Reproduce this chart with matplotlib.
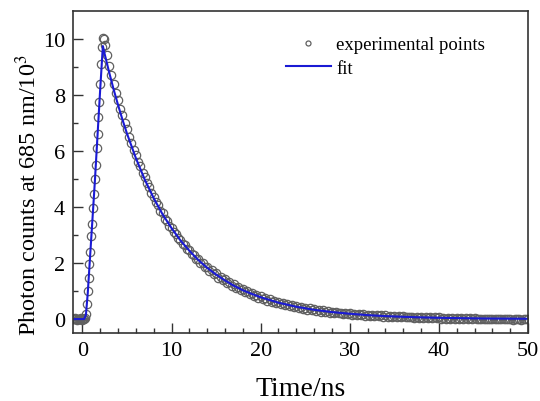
import numpy as np
import matplotlib
matplotlib.use("Agg")
import matplotlib.pyplot as plt

plt.rcParams['font.family'] = ['Liberation Serif', 'DejaVu Serif']
plt.rcParams['mathtext.fontset'] = 'stix'

# experimental points, part 1: t = -1.0 ... 2.4 ns, step 0.1 ns
exp_t0_a, exp_dt_a = -1.0, 0.1
exp_y_a = [0.02, -0.01, 0.03, 0.00, -0.02, 0.01, 0.02, -0.01, 0.00, 0.03,
           -0.02, 0.01, 0.02, 0.05, 0.18, 0.55, 1.00, 1.45, 1.95, 2.40,
           2.95, 3.40, 3.95, 4.45, 5.00, 5.50, 6.10, 6.60, 7.20, 7.75,
           8.40, 9.10, 9.70, 10.05, 10.00]

# experimental points, part 2: t = 2.5 ... 50 ns, step 0.25 ns
exp_t0_b, exp_dt_b = 2.5, 0.25
exp_y_b = [9.80, 9.42, 9.05, 8.70, 8.41, 8.08, 7.82, 7.52, 7.28, 6.99,
           6.78, 6.50, 6.30, 6.05, 5.86, 5.62, 5.45, 5.22, 5.06, 4.85,
           4.70, 4.50, 4.37, 4.18, 4.06, 3.86, 3.78, 3.58, 3.50, 3.33,
           3.27, 3.10, 3.05, 2.88, 2.84, 2.67, 2.65, 2.49, 2.46, 2.31,
           2.30, 2.14, 2.15, 1.99, 2.01, 1.85, 1.87, 1.72, 1.74, 1.60,
           1.63, 1.48, 1.52, 1.38, 1.42, 1.28, 1.33, 1.19, 1.24, 1.10,
           1.16, 1.03, 1.08, 0.95, 1.00, 0.89, 0.93, 0.83, 0.87, 0.77,
           0.81, 0.71, 0.76, 0.66, 0.71, 0.62, 0.66, 0.57, 0.62, 0.53,
           0.58, 0.49, 0.54, 0.46, 0.50, 0.42, 0.47, 0.39, 0.44, 0.36,
           0.41, 0.34, 0.38, 0.31, 0.36, 0.29, 0.33, 0.27, 0.31, 0.25,
           0.29, 0.23, 0.27, 0.21, 0.25, 0.20, 0.23, 0.18, 0.21, 0.17,
           0.20,
           0.16, 0.19, 0.14, 0.18, 0.13, 0.17, 0.12, 0.16, 0.12, 0.15,
           0.11, 0.14, 0.10, 0.14, 0.09, 0.13, 0.09, 0.12, 0.08, 0.11,
           0.08, 0.11, 0.07, 0.10, 0.06, 0.09, 0.06, 0.09, 0.05, 0.08,
           0.05, 0.08, 0.04, 0.07, 0.04, 0.07, 0.03, 0.06, 0.03, 0.06,
           0.02, 0.05, 0.02, 0.05, 0.01, 0.04, 0.02, 0.04, 0.01, 0.04,
           0.00, 0.03, 0.01, 0.03, 0.00, 0.03, 0.00, 0.02, -0.01, 0.02,
           0.00, 0.02, -0.01, 0.02, 0.00, 0.01, -0.01, 0.02, -0.01, 0.01,
           0.00, 0.01, -0.02, 0.01, -0.01, 0.01, -0.02, 0.00, -0.01, 0.01]

# fitted curve
fit_t = [-1.0, 0.2, 0.4, 0.6, 0.8, 1.0, 1.2, 1.4, 1.6, 1.8, 2.0, 2.3, 2.5,
         3, 3.5, 4, 4.5, 5, 6, 7, 8, 9, 10, 11, 12, 13, 14, 15, 16, 17,
         18, 19, 20, 22, 24, 26, 28, 30, 32, 34, 36, 38, 40, 42, 45, 50]
fit_y = [0, 0, 0.15, 0.9, 1.9, 2.9, 3.9, 4.9, 6.0, 7.1, 8.2, 9.75, 9.47,
         8.82, 8.21, 7.65, 7.12, 6.63, 5.75, 4.98, 4.32, 3.74, 3.25, 2.81,
         2.44, 2.11, 1.83, 1.59, 1.38, 1.19, 1.03, 0.90, 0.78, 0.585, 0.44,
         0.33, 0.25, 0.19, 0.14, 0.105, 0.08, 0.06, 0.045, 0.034, 0.02, 0.01]

exp_t = np.concatenate([exp_t0_a + exp_dt_a * np.arange(len(exp_y_a)),
                        exp_t0_b + exp_dt_b * np.arange(len(exp_y_b))])
exp_y = np.array(exp_y_a + exp_y_b)

fig = plt.figure(figsize=(5.4, 4.02), dpi=100)
ax = fig.add_axes([0.136, 0.169, 0.842, 0.801])

ax.plot(exp_t, exp_y, linestyle='none', marker='o', markersize=6,
        markerfacecolor='none', markeredgecolor='#606060', markeredgewidth=0.9,
        label='experimental points')
ax.plot(fit_t, fit_y, color='#1a1ad4', linewidth=1.5, label='fit')

ax.set_xlim(-1, 50)
ax.set_ylim(-0.5, 11)
ax.set_xticks([0, 10, 20, 30, 40, 50])
ax.set_xticks(np.arange(0, 51, 2), minor=True)
ax.set_yticks([0, 2, 4, 6, 8, 10])
ax.set_yticks(np.arange(0, 11, 1), minor=True)
ax.tick_params(which='both', direction='in', top=False, right=False,
               labelsize=16, color='#333333', width=1.0)
ax.tick_params(which='major', length=7, pad=6)
ax.tick_params(which='minor', length=3.5)
for s in ax.spines.values():
    s.set_color('#333333')
    s.set_linewidth(1.2)

ax.set_xlabel('Time/ns', fontsize=20, labelpad=11)
ax.set_ylabel('Photon counts at 685 nm/10$^3$', fontsize=17.5)
ax.yaxis.set_label_coords(-0.07, 0.43)

leg = ax.legend(loc='upper left', bbox_to_anchor=(0.43, 0.975), frameon=False,
                fontsize=13.5, numpoints=1, handlelength=2.4, handletextpad=0.3,
                labelspacing=0.35, markerscale=0.6)

fig.savefig('out.png', dpi=100)
